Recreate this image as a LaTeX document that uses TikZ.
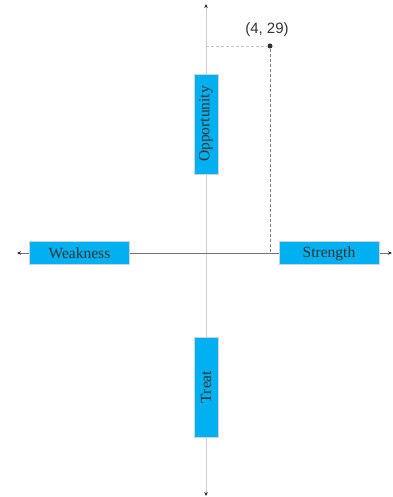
\documentclass[tikz,border=0pt]{standalone}
\usepackage{fontspec}
\setmainfont{Liberation Serif}
\newfontfamily\labelfont{Liberation Sans}
\usetikzlibrary{arrows.meta}
\definecolor{boxblue}{HTML}{00B0F0}
\definecolor{boxtext}{HTML}{333333}

\begin{document}
\begin{tikzpicture}[x=1pt, y=-1pt,
    box/.style={draw=gray!35, fill=boxblue, text=boxtext, inner sep=0pt,
                font=\fontsize{15.5}{17}\selectfont},
    hbox/.style={box, minimum width=100pt, minimum height=23pt,
                 text height=12pt, text depth=1.2pt},
    vbox/.style={box, minimum width=100pt, minimum height=24pt, rotate=90},
    tip/.style={-{Stealth[length=4pt, width=3.5pt, color=black!85]}}]
    \useasboundingbox (0,0) rectangle (392,497);
    % axes
    \coordinate (top) at (206,4);
    \coordinate (bottom) at (206,496);
    \coordinate (left) at (17,253);
    \coordinate (right) at (392,253);
    \coordinate (origin) at (206,253);
    \draw[tip, gray!40, line width=1pt] (origin) -- (top);
    \draw[tip, gray!40, line width=1pt] (origin) -- (bottom);
    \draw[tip, black!55, line width=1pt] (origin) -- (left);
    \draw[tip, black!55, line width=1pt] (origin) -- (right);
    % point
    \coordinate (ylevel) at (206,46);
    \coordinate (xlevel) at (270,253);
    \node[circle, fill=black!80, inner sep=0pt, minimum size=5pt] (pt) at (270,46) {};
    \node[font=\labelfont\fontsize{15}{17}\selectfont, text=boxtext] (ptlabel) at (267,30) {(4, 29)};
    \draw[gray!45, dash pattern=on 3pt off 2pt] (ylevel) -- (pt);
    \draw[black!50, dash pattern=on 3pt off 2pt] (pt) -- (xlevel);
    % quadrant boxes
    \node[vbox] (opp) at (206,124) {Opportunity};
    \node[vbox] (treat) at (206,387) {Treat};
    \node[hbox] (weak) at (79.5,253) {Weakness};
    \node[hbox] (str) at (329,252.5) {Strength};
\end{tikzpicture}
\end{document}
